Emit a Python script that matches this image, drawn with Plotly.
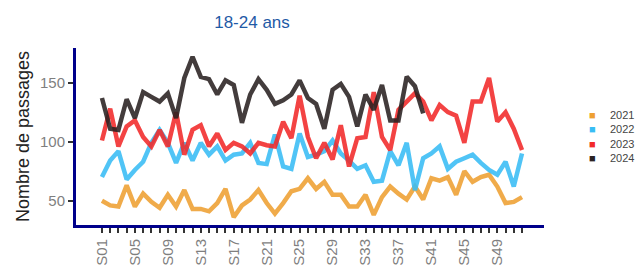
import plotly.graph_objects as go

weeks = [f"S{i:02d}" for i in range(1, 53)]
tick_labels = [w if (i % 4 == 0) else "" for i, w in enumerate(weeks)]

years = ["2021", "2022", "2023", "2024"]
colors = ["#eea032", "#38bdf5", "#f22a2a", "#2a2222"]

v2021 = [50, 46, 45, 63, 45, 56, 49, 44, 55, 45, 59, 43, 43, 41, 48, 60, 36, 46, 51, 59,
         48, 39, 48, 58, 60, 69, 60, 66, 55, 55, 45, 45, 55, 38, 53, 62, 56, 51, 62, 51,
         69, 67, 70, 55, 75, 66, 70, 72, 62, 48, 49, 53]
v2022 = [70, 84, 92, 68, 76, 83, 99, 110, 99, 82, 99, 84, 99, 89, 96, 84, 89, 90, 99, 82,
         81, 106, 79, 77, 107, 87, 89, 92, 101, 90, 84, 77, 80, 66, 67, 92, 80, 99, 59, 86,
         90, 96, 77, 83, 86, 89, 82, 76, 72, 83, 62, 90]
v2023 = [101, 128, 96, 113, 118, 104, 96, 110, 96, 125, 89, 110, 114, 96, 107, 93, 99, 96, 90, 99,
         97, 96, 117, 103, 139, 104, 86, 99, 85, 114, 79, 103, 104, 142, 104, 93, 127, 134, 141, 134,
         118, 131, 125, 122, 99, 134, 134, 154, 117, 125, 111, 93]
v2024 = [137, 111, 110, 136, 120, 142, 138, 134, 141, 120, 154, 172, 155, 153, 140, 152, 148, 116, 140, 153,
         144, 132, 135, 140, 152, 137, 132, 111, 144, 149, 138, 113, 140, 127, 148, 118, 118, 155, 147, 124]

series = [v2021, v2022, v2023, v2024]

W, H = 642, 267
L, R, T, B = 76, 98, 48, 42
PW, PH = W - L - R, H - T - B

fig = go.Figure()
for name, col, vals in zip(years, colors, series):
    fig.add_trace(go.Scatter(
        x=weeks[:len(vals)], y=vals, mode="lines", name=name,
        line=dict(color=col, width=4.5), opacity=0.88, showlegend=False,
    ))

# compact legend drawn as two multi-line text annotations (like the reference)
legend_mid = (H - B - 136) / PH
squares = "<br>".join(f"<span style='color:{c}'>■</span>" for c in colors)
labels = "<br>".join(years)
annotations = [
    dict(xref="paper", yref="paper", x=(592 - L) / PW, y=legend_mid, text=squares,
         showarrow=False, xanchor="center", yanchor="middle", align="center",
         font=dict(size=11)),
    dict(xref="paper", yref="paper", x=(608 - L) / PW, y=legend_mid, text=labels,
         showarrow=False, xanchor="left", yanchor="middle", align="left",
         font=dict(size=11, color="#444444")),
]

fig.update_layout(
    width=W, height=H,
    margin=dict(l=L, r=R, t=T, b=B, autoexpand=False),
    paper_bgcolor="white", plot_bgcolor="white",
    font=dict(family="Liberation Sans, Arial, sans-serif", color="#444444"),
    title=dict(text="18-24 ans", x=252 / W, xanchor="center",
               y=1 - 22 / H, yanchor="middle",
               font=dict(size=17, color="#1f5aa6")),
    showlegend=False,
    hovermode=False,
    annotations=annotations,
)

fig.update_xaxes(
    type="category", categoryorder="array", categoryarray=weeks,
    range=[-3.15, 53.67], automargin=False,
    tickmode="array", tickvals=weeks, ticktext=tick_labels,
    tickangle=-90, tickfont=dict(size=15, color="#7f7f7f"),
    ticks="outside", ticklen=5, tickwidth=2, tickcolor="#333333",
    showline=True, linecolor="#00008b", linewidth=3,
    showgrid=False, zeroline=False,
)
fig.update_yaxes(
    range=[29.4, 179.4], automargin=False,
    tickvals=[50, 100, 150],
    tickfont=dict(size=15, color="#7f7f7f"),
    ticks="outside", ticklen=5, tickwidth=2, tickcolor="#333333",
    showline=True, linecolor="#00008b", linewidth=3,
    showgrid=False, zeroline=False,
    title=dict(text="Nombre de passages", font=dict(size=18, color="#222222"), standoff=6),
)

fig.write_html("out.html", config={"displayModeBar": False},
               post_script="document.body.style.margin='0';")
